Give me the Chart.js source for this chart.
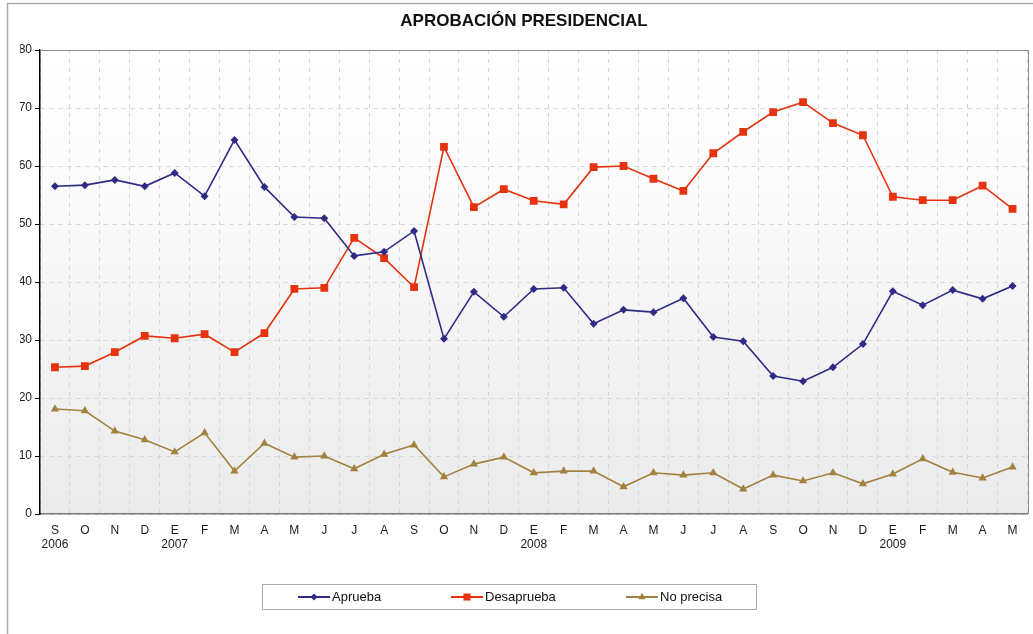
<!DOCTYPE html>
<html><head><meta charset="utf-8">
<script src="https://cdn.jsdelivr.net/npm/chart.js@4/dist/chart.umd.min.js"></script>
<style>html,body{margin:0;padding:0;background:#fff}#wrap{width:1033px;height:634px}</style>
</head><body><div id="wrap"><canvas id="c" width="1033" height="634"></canvas></div>
<script>
const months = ["S","O","N","D","E","F","M","A","M","J","J","A","S","O","N","D","E","F","M","A","M","J","J","A","S","O","N","D","E","F","M","A","M"];
const years  = ["2006","","","","2007","","","","","","","","","","","","2008","","","","","","","","","","","","2009","","","",""];
const aprueba    = [56.5,56.7,57.6,56.5,58.8,54.8,64.5,56.4,51.2,51.0,44.5,45.2,48.8,30.2,38.3,34.0,38.8,39.0,32.8,35.2,34.8,37.2,30.5,29.8,23.8,22.9,25.3,29.3,38.4,36.0,38.6,37.1,39.3];
const desaprueba = [25.3,25.5,27.9,30.7,30.3,31.0,27.9,31.2,38.8,39.0,47.6,44.1,39.1,63.3,52.9,56.0,54.0,53.4,59.8,60.0,57.8,55.7,62.2,65.9,69.3,71.0,67.4,65.3,54.7,54.1,54.1,56.6,52.6];
const noPrecisa  = [18.1,17.8,14.3,12.8,10.7,14.0,7.4,12.2,9.8,10.0,7.8,10.3,11.9,6.4,8.6,9.8,7.1,7.4,7.4,4.7,7.1,6.7,7.1,4.3,6.7,5.7,7.1,5.2,6.9,9.5,7.2,6.2,8.1];
const seriesNames = ["Aprueba","Desaprueba","No precisa"];
const titleText = "APROBACIÓN PRESIDENCIAL";

const FONT = "'Liberation Sans', Arial, Helvetica, sans-serif";
const COLORS = ["#2E2A86", "#E5330F", "#A3823F"];
const STYLES = ["rectRot", "rect", "triangle"];
const RADII = [4, 5.5, 4.8];

const labels = months.map((m, i) => [m, years[i]]);

function marker(ctx, style, x, y, r, color) {
  ctx.save();
  ctx.fillStyle = color;
  ctx.beginPath();
  if (style === "rectRot") {
    ctx.moveTo(x, y - r); ctx.lineTo(x + r, y); ctx.lineTo(x, y + r); ctx.lineTo(x - r, y);
  } else if (style === "rect") {
    const s = r * Math.SQRT1_2;
    ctx.rect(x - s, y - s, 2 * s, 2 * s);
  } else {
    ctx.moveTo(x, y - r);
    ctx.lineTo(x + r * Math.sin(2 * Math.PI / 3), y - r * Math.cos(2 * Math.PI / 3));
    ctx.lineTo(x + r * Math.sin(4 * Math.PI / 3), y - r * Math.cos(4 * Math.PI / 3));
  }
  ctx.closePath();
  ctx.fill();
  ctx.restore();
}

const decor = {
  id: "decor",
  beforeDraw(chart) {
    const { ctx, chartArea: a } = chart;
    ctx.save();
    ctx.fillStyle = "#fff";
    ctx.fillRect(0, 0, chart.width, chart.height);
    const g = ctx.createLinearGradient(0, a.top, 0, a.bottom);
    g.addColorStop(0, "#ffffff");
    g.addColorStop(0.25, "#fcfcfc");
    g.addColorStop(1, "#ebebeb");
    ctx.fillStyle = g;
    ctx.fillRect(a.left, a.top, a.right - a.left, a.bottom - a.top);
    ctx.strokeStyle = "#ababab";
    ctx.lineWidth = 1.5;
    ctx.beginPath();
    ctx.moveTo(7.5, chart.height);
    ctx.lineTo(7.5, 3.5);
    ctx.lineTo(chart.width, 3.5);
    ctx.stroke();
    ctx.restore();
  },
  beforeDatasetsDraw(chart) {
    const { ctx, chartArea: a } = chart;
    ctx.save();
    ctx.strokeStyle = "#8c8c8c";
    ctx.lineWidth = 1;
    ctx.beginPath();
    ctx.moveTo(a.left, Math.round(a.top) + 0.5);
    ctx.lineTo(Math.round(a.right) + 0.5, Math.round(a.top) + 0.5);
    ctx.lineTo(Math.round(a.right) + 0.5, a.bottom);
    ctx.stroke();
    ctx.restore();
  },
  afterDraw(chart) {
    const ctx = chart.ctx;
    ctx.save();
    ctx.strokeStyle = "#ababab";
    ctx.lineWidth = 1;
    ctx.strokeRect(262.5, 584.5, 494, 25);
    const starts = [298, 451, 626];
    const cy = 597;
    ctx.font = "13px " + FONT;
    ctx.textBaseline = "middle";
    ctx.fillStyle = "#111";
    chart.data.datasets.forEach((ds, i) => {
      const x0 = starts[i];
      ctx.strokeStyle = ds.borderColor;
      ctx.lineWidth = 2;
      ctx.beginPath();
      ctx.moveTo(x0, cy);
      ctx.lineTo(x0 + 32, cy);
      ctx.stroke();
      marker(ctx, STYLES[i], x0 + 16, cy, RADII[i] - 0.5, ds.borderColor);
      ctx.fillStyle = "#111";
      ctx.fillText(ds.label, x0 + 34, cy + 0.5);
    });
    ctx.restore();
  }
};

const mk = (i, data) => ({
  label: seriesNames[i],
  data,
  borderColor: COLORS[i],
  backgroundColor: COLORS[i],
  borderWidth: 1.6,
  pointStyle: STYLES[i],
  pointRadius: RADII[i],
  pointBorderWidth: 0,
  pointBackgroundColor: COLORS[i],
  tension: 0,
  fill: false
});

new Chart(document.getElementById("c"), {
  type: "line",
  data: {
    labels,
    datasets: [mk(0, aprueba), mk(1, desaprueba), mk(2, noPrecisa)]
  },
  options: {
    responsive: false,
    animation: false,
    layout: { padding: { left: 20, right: 5, top: 0, bottom: 0 } },
    plugins: {
      legend: { display: false },
      tooltip: { enabled: false },
      title: {
        display: true,
        text: titleText,
        color: "#111",
        font: { family: FONT, size: 17, weight: "bold" },
        padding: { top: 11.5, bottom: 18.1 }
      }
    },
    scales: {
      x: {
        offset: true,
        grid: { offset: true, color: "#d5d5d5", drawTicks: false, lineWidth: 1 },
        border: { color: "#7a7a7a", width: 1.5, dash: [4, 5] },
        ticks: { autoSkip: false, maxRotation: 0, minRotation: 0, padding: 9, color: "#1a1a1a", font: { family: FONT, size: 12 } },
        afterFit(s) { s.height = 120; }
      },
      y: {
        min: 0, max: 80,
        ticks: { stepSize: 10, padding: 3, color: "#1a1a1a", font: { family: FONT, size: 12 } },
        grid: { color: "#d5d5d5", tickColor: "#000", tickLength: 5, lineWidth: 1 },
        border: { color: "#000", width: 1.5, dash: [4, 5] },
        afterFit(s) { s.width = 20; }
      }
    }
  },
  plugins: [decor]
});
</script>
</body></html>
